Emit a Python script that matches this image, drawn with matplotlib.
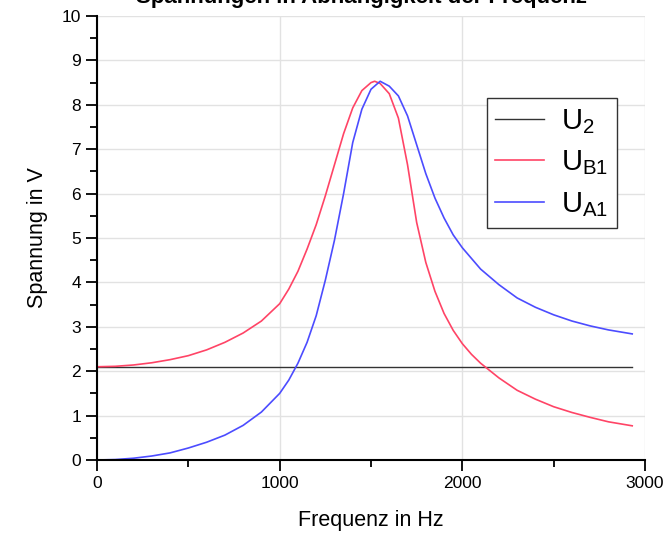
import matplotlib.pyplot as plt
from matplotlib.ticker import MultipleLocator

plt.rcParams["font.family"] = ["Liberation Sans", "DejaVu Sans"]
plt.rcParams["mathtext.default"] = "regular"

# frequency in Hz, voltage in V
f_u2 = [0, 2930]
u2 = [2.1, 2.1]

f_b1 = [0, 100, 200, 300, 400, 500, 600, 700, 800, 900, 1000, 1050, 1100, 1150,
        1200, 1250, 1300, 1350, 1400, 1450, 1500, 1520, 1550, 1600, 1650, 1700,
        1750, 1800, 1850, 1900, 1950, 2000, 2050, 2100, 2200, 2300, 2400, 2500,
        2600, 2700, 2800, 2930]
u_b1 = [2.1, 2.11, 2.14, 2.19, 2.26, 2.35, 2.48, 2.65, 2.86, 3.13, 3.52, 3.85, 4.25, 4.75,
        5.3, 5.95, 6.65, 7.35, 7.93, 8.32, 8.5, 8.53, 8.48, 8.25, 7.7, 6.65,
        5.35, 4.45, 3.8, 3.3, 2.92, 2.62, 2.38, 2.18, 1.85, 1.57, 1.37, 1.2,
        1.07, 0.96, 0.86, 0.77]

f_a1 = [0, 100, 200, 300, 400, 500, 600, 700, 800, 900, 1000, 1050, 1100, 1150,
        1200, 1250, 1300, 1350, 1400, 1450, 1500, 1550, 1600, 1650, 1700, 1750,
        1800, 1850, 1900, 1950, 2000, 2100, 2200, 2300, 2400, 2500, 2600, 2700,
        2800, 2930]
u_a1 = [0.0, 0.01, 0.04, 0.09, 0.16, 0.27, 0.4, 0.56, 0.78, 1.08, 1.5, 1.8, 2.18, 2.65,
        3.25, 4.05, 4.95, 6.0, 7.15, 7.9, 8.35, 8.53, 8.42, 8.2, 7.75, 7.1,
        6.45, 5.9, 5.45, 5.07, 4.78, 4.3, 3.95, 3.65, 3.44, 3.27, 3.13, 3.02,
        2.93, 2.84]

fig = plt.figure(figsize=(6.69, 5.33), dpi=100)
ax = fig.add_axes([97 / 669, 1 - 460 / 533, 548 / 669, 444 / 533])

ax.plot(f_u2, u2, color="#333333", lw=1.0, label="U$_2$")
ax.plot(f_b1, u_b1, color="#ff4466", lw=1.2, label="U$_{B1}$")
ax.plot(f_a1, u_a1, color="#4c4cff", lw=1.2, label="U$_{A1}$")

ax.set_xlim(0, 3000)
ax.set_ylim(0, 10)
ax.xaxis.set_major_locator(MultipleLocator(1000))
ax.xaxis.set_minor_locator(MultipleLocator(500))
ax.yaxis.set_major_locator(MultipleLocator(1))
ax.yaxis.set_minor_locator(MultipleLocator(0.5))
ax.tick_params(which="major", length=8, width=1.3, labelsize=12.5, direction="out")
ax.tick_params(which="minor", length=5, width=1.3, direction="out")
for s in ["top", "right"]:
    ax.spines[s].set_visible(False)
for s in ["left", "bottom"]:
    ax.spines[s].set_linewidth(1.5)
ax.grid(True, which="major", color="#e2e2e2", lw=1.0)
ax.set_axisbelow(True)

ax.set_xlabel("Frequenz in Hz", fontsize=15.5, labelpad=14)
ax.set_ylabel("Spannung in V", fontsize=15.5, labelpad=10)

leg = ax.legend(loc="upper right", bbox_to_anchor=(617 / 669, 1 - 98 / 533),
                bbox_transform=fig.transFigure, fontsize=21,
                fancybox=False, edgecolor="#333333", framealpha=1,
                handlelength=1.65, borderpad=0.3, borderaxespad=0,
                labelspacing=0.45, handletextpad=0.6)
leg.get_frame().set_linewidth(1.0)

fig.text(0.54, 0.994, "Spannungen in Abhängigkeit der Frequenz", fontsize=16,
         fontweight="bold", ha="center", va="baseline")

fig.savefig("out.png", dpi=100)
